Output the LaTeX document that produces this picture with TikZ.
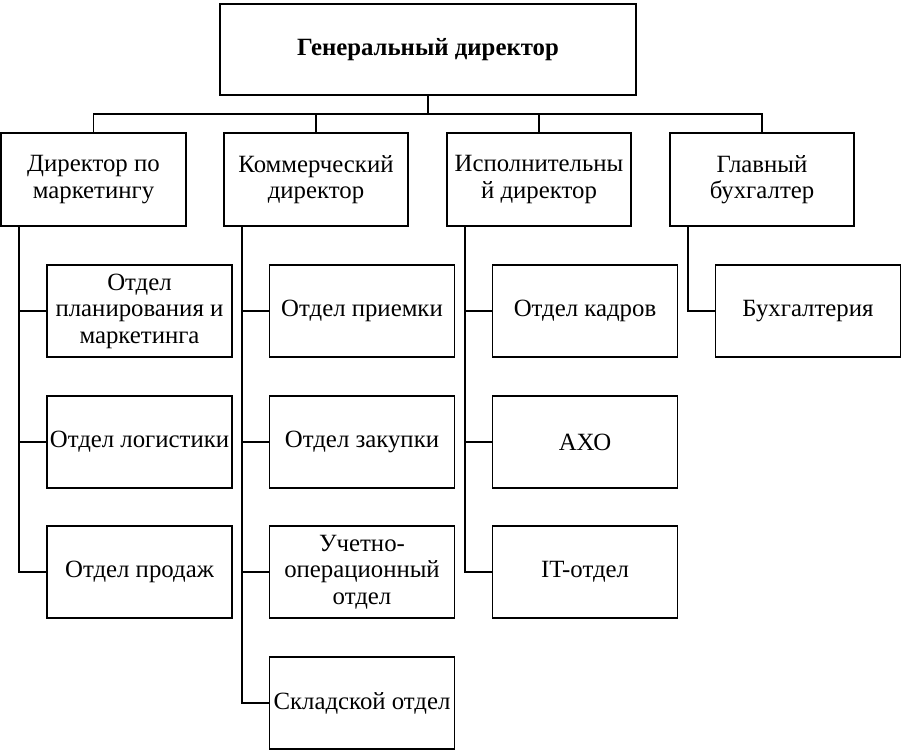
\documentclass[tikz,border=0pt]{standalone}
\usepackage{fontspec}
\setmainfont{Liberation Serif}
\usetikzlibrary{positioning, calc}

\tikzset{
  unit/.style={draw, line width=1.7pt, minimum width=185pt, minimum height=92pt,
    inner xsep=0pt, inner ysep=1pt, align=center,
    font=\fontsize{24.8}{26.5}\selectfont},
  link/.style={line width=1.7pt}
}

\begin{document}
\begin{tikzpicture}[x=1pt, y=-1pt]
  \useasboundingbox (0,0) rectangle (901,752);
  % top
  \node[unit, minimum width=416pt, minimum height=91pt, font=\fontsize{24.8}{26.5}\selectfont\bfseries] (gd) at (428,49.5) {Генеральный директор};
  % directors
  \node[unit, minimum height=93pt] (dm) at (93.5,179.5) {Директор по\\маркетингу};
  \node[unit, minimum width=184pt, minimum height=93pt] (cd) at (316,179.5) {Коммерческий\\директор};
  \node[unit, minimum width=184pt, minimum height=93pt] (id) at (539,179.5) {Исполнительны\\й директор};
  \node[unit, minimum width=184pt, minimum height=93pt] (gb) at (762,179.5) {Главный\\бухгалтер};
  % departments
  \node[unit] (plan) at (139.5,311) {Отдел\\планирования и\\маркетинга};
  \node[unit] (log)  at (139.5,442) {Отдел логистики};
  \node[unit] (sale) at (139.5,572) {Отдел продаж};
  \node[unit] (prm)  at (362,311) {Отдел приемки};
  \node[unit] (buy)  at (362,442) {Отдел закупки};
  \node[unit] (uch)  at (362,572) {Учетно-\\операционный\\отдел};
  \node[unit] (skl)  at (362,703) {Складской отдел};
  \node[unit] (hr)   at (585,311) {Отдел кадров};
  \node[unit] (axo)  at (585,442) {АХО};
  \node[unit] (it)   at (585,572) {IT-отдел};
  \node[unit] (acc)  at (808,311) {Бухгалтерия};

  % bus
  \coordinate (bus) at (0,114);
  \draw[link] (gd.south) -- (gd.south |- bus);
  \draw[link] (dm.north) |- (gb.north |- bus) -- (gb.north);
  \foreach \n in {cd,id}
    \draw[link] (\n.north) -- (\n.north |- bus);

  % spines
  \foreach \p/\c in {dm/plan,dm/log,dm/sale,cd/prm,cd/buy,cd/uch,cd/skl,id/hr,id/axo,id/it,gb/acc}
    \draw[link] ([xshift=18.5pt]\p.south west) |- (\c.west);
\end{tikzpicture}
\end{document}
